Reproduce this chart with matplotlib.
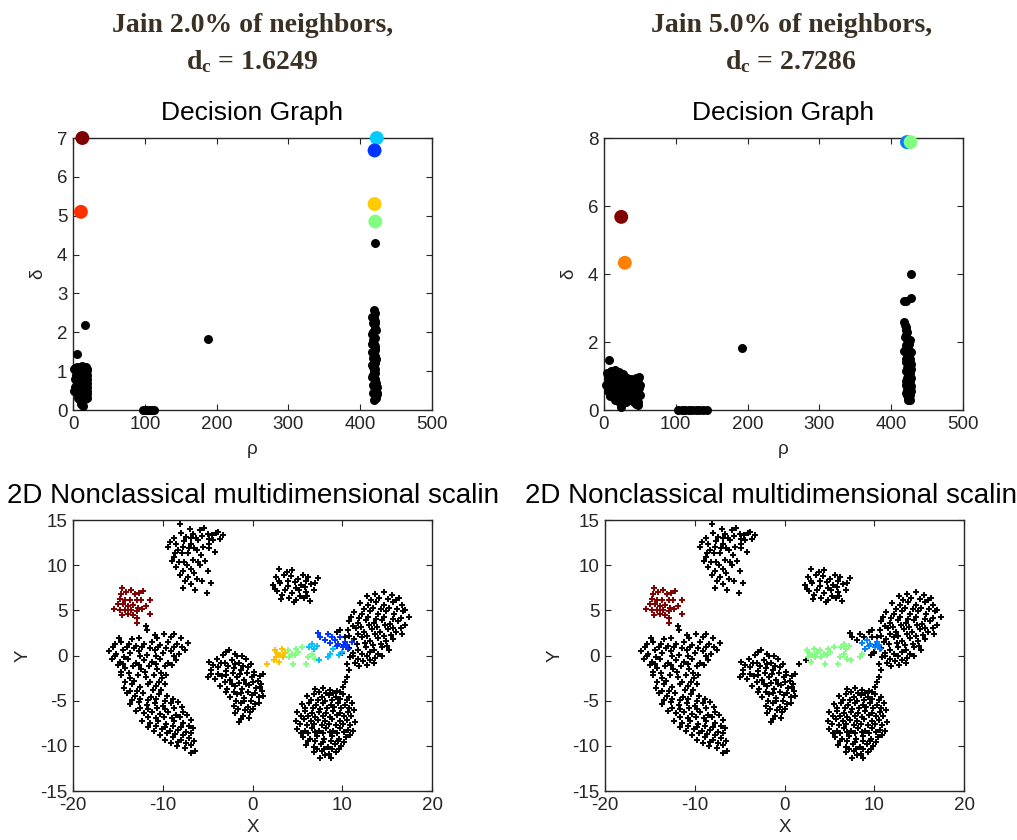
import numpy as np
import matplotlib
matplotlib.use("Agg")
import matplotlib.pyplot as plt

plt.rcParams["font.family"] = ["Liberation Sans", "DejaVu Sans"]
plt.rcParams["axes.unicode_minus"] = False
plt.rcParams["mathtext.fontset"] = "custom"
plt.rcParams["mathtext.rm"] = "Liberation Serif"
plt.rcParams["mathtext.bf"] = "Liberation Serif:bold"

# ---------------- data: decision graphs ----------------
panelTitles = ["Jain 2.0% of neighbors,", "Jain 5.0% of neighbors,"]
dcValues = ["1.6249", "2.7286"]

# 2% run: black points (rho, delta)
decisionBlack2 = [
    (5, 1.45), (17, 2.18), (188, 1.83), (420, 4.3),
    (3, 1.08), (6, 1.1), (9, 1.05), (12, 1.12), (15, 1.0), (18, 1.1), (19, 1.02),
    (4, 0.9), (8, 0.85), (11, 0.92), (14, 0.88), (17, 0.9), (19, 0.8),
    (2, 0.5), (5, 0.7), (7, 0.6), (10, 0.72), (13, 0.65), (16, 0.75), (19, 0.6),
    (6, 0.45), (9, 0.4), (12, 0.48), (15, 0.35), (18, 0.42), (19, 0.3),
    (10, 0.25), (13, 0.2), (14, 0.1), (16, 0.28),
    (3, 0.8), (5, 0.95), (7, 1.0), (10, 0.95), (13, 1.0), (16, 0.95), (20, 1.05),
    (20, 0.9), (20, 0.7), (20, 0.5), (20, 0.4), (3, 0.6), (8, 0.7), (11, 0.55),
    (14, 0.55), (17, 0.55), (7, 0.3), (12, 0.35), (15, 0.45), (17, 0.3), (11, 0.15),
    (4, 0.5), (2, 1.05),
    (98, 0), (101, 0), (104, 0), (107, 0), (110, 0), (113, 0),
    (419, 2.58), (421, 2.5), (418, 2.25), (420, 2.1), (417, 1.95), (422, 2.05),
    (418, 1.8), (420, 1.65), (417, 1.5), (421, 1.4), (419, 1.25), (418, 1.1),
    (420, 0.95), (417, 0.85), (421, 0.75), (419, 0.6), (422, 0.5), (418, 0.45),
    (420, 0.35), (419, 0.25), (423, 0.4), (421, 0.55),
    (419, 2.4), (420, 2.3), (418, 2.0), (421, 1.85), (419, 1.7), (420, 1.55),
    (418, 1.35), (422, 1.3), (420, 1.2), (417, 1.15), (421, 1.05), (419, 1.0),
    (418, 0.9), (420, 0.8), (422, 0.7), (418, 0.65), (420, 0.55), (422, 0.3),
    (424, 0.45), (423, 0.6), (417, 2.4), (421, 2.25), (417, 1.7), (421, 1.6),
]
decisionCenters2 = [(13, 7.0), (11, 5.1), (423, 7.0), (420, 6.68), (420, 5.3), (421, 4.85)]
centerColors2 = ["#800000", "#ff3000", "#00ccff", "#0033ff", "#ffcc00", "#80ff80"]

# 5% run
decisionBlack5 = [
    (192, 1.83), (427, 4.0), (418, 3.2), (421, 3.22), (427, 3.3),
    (7, 1.48), (4, 1.1), (10, 1.15), (16, 1.18), (21, 1.12), (26, 1.05), (32, 0.95),
    (38, 0.92), (44, 0.95), (49, 0.98),
    (8, 0.85), (13, 0.9), (18, 0.95), (23, 0.88), (28, 0.82), (34, 0.8), (40, 0.78),
    (46, 0.82), (50, 0.75),
    (6, 0.55), (11, 0.62), (16, 0.7), (21, 0.65), (26, 0.6), (31, 0.55), (36, 0.6),
    (42, 0.58), (48, 0.55), (50, 0.45),
    (9, 0.4), (14, 0.45), (19, 0.42), (24, 0.38), (29, 0.35), (34, 0.4), (39, 0.35),
    (45, 0.3), (48, 0.25), (22, 0.2), (23, 0.1), (28, 0.28), (44, 0.18), (47, 0.15),
    (12, 1.05), (18, 1.05), (29, 0.95), (35, 0.9), (41, 0.88), (47, 0.9), (15, 0.75),
    (25, 0.72), (30, 0.7), (38, 0.7), (44, 0.65), (49, 0.65), (12, 0.5), (18, 0.55),
    (28, 0.48), (33, 0.5), (40, 0.48), (46, 0.42), (15, 0.3), (20, 0.3), (31, 0.25),
    (36, 0.3), (42, 0.25), (26, 0.45), (5, 0.95), (3, 0.75), (8, 0.65), (6, 1.0),
    (103, 0), (108, 0), (113, 0), (118, 0), (123, 0), (128, 0), (133, 0), (138, 0), (143, 0),
    (418, 2.6), (420, 2.45), (422, 2.3), (419, 2.15), (423, 2.05), (421, 1.9), (425, 1.95),
    (418, 1.75), (427, 1.7), (422, 1.6), (426, 1.5), (420, 1.4), (424, 1.3), (421, 1.15),
    (425, 1.05), (422, 0.95), (426, 0.85), (420, 0.75), (424, 0.65), (427, 0.55),
    (421, 0.5), (425, 0.4), (426, 0.3), (423, 0.35), (428, 0.7), (428, 1.2),
    (419, 2.5), (421, 2.35), (420, 2.2), (422, 2.1), (424, 1.85), (420, 1.8),
    (423, 1.7), (425, 1.6), (421, 1.5), (423, 1.4), (425, 1.25), (422, 1.25),
    (426, 1.1), (423, 1.0), (421, 0.85), (425, 0.9), (423, 0.75), (426, 0.65),
    (422, 0.6), (424, 0.5), (426, 0.45), (422, 0.45), (424, 0.3), (427, 0.95),
    (427, 1.35), (426, 2.05),
]
decisionCenters5 = [(24, 5.68), (29, 4.33), (422, 7.88), (427, 7.88)]
centerColors5 = ["#800000", "#ff8000", "#0080ff", "#80ff80"]

# ---------------- data: 2D embedding ----------------
topCluster = [
    (-8.1, 14.6), (-8.8, 13.0), (-9.4, 12.0), (-8.5, 12.4), (-7.4, 13.1), (-6.6, 13.5),
    (-5.9, 13.9), (-5.4, 14.1), (-5.0, 13.5), (-3.8, 13.7), (-3.3, 13.3), (-4.4, 12.8),
    (-4.8, 12.4), (-6.1, 12.8), (-6.8, 12.4), (-7.7, 12.0), (-7.9, 11.3), (-8.8, 10.9),
    (-7.2, 11.3), (-6.2, 11.7), (-5.5, 12.0), (-4.2, 11.5), (-5.7, 11.1), (-6.6, 10.6),
    (-7.6, 10.4), (-8.5, 9.8), (-7.7, 9.4), (-6.8, 9.6), (-5.9, 10.0), (-5.0, 9.4),
    (-7.2, 8.7), (-6.2, 8.5), (-7.7, 7.5), (-6.4, 7.2), (-5.1, 6.9), (-4.6, 8.0),
    (-9.0, 10.5), (-8.1, 8.9), (-7.0, 14.0), (-6.3, 13.0), (-4.5, 13.3), (-8.3, 11.7),
    (-9.2, 12.6), (-8.0, 13.6), (-7.6, 12.7), (-6.9, 13.0), (-5.6, 13.2), (-4.1, 13.6),
    (-3.6, 12.9), (-4.9, 11.9), (-6.5, 11.9), (-7.1, 11.9), (-8.2, 10.3), (-6.1, 10.4),
    (-5.3, 10.5), (-7.3, 10.0), (-6.5, 9.1), (-7.5, 8.3), (-5.6, 8.3), (-6.9, 7.9),
    (-4.8, 12.9), (-8.6, 11.4),
]
redCluster = [
    (-14.5, 7.53), (-14.6, 6.86), (-14.1, 7.05), (-13.5, 7.31), (-13.1, 6.86), (-12.6, 6.94),
    (-12.2, 7.16), (-14.8, 6.31), (-14.2, 6.2), (-13.7, 6.13), (-12.9, 6.13), (-12.4, 6.13),
    (-11.4, 6.2), (-15.0, 5.76), (-14.4, 5.68), (-13.9, 5.46), (-13.3, 5.57), (-12.8, 5.31),
    (-15.4, 5.2), (-14.8, 5.09), (-14.2, 5.02), (-13.5, 5.02), (-12.9, 4.94), (-12.3, 5.2),
    (-14.5, 4.46), (-13.9, 4.65), (-13.3, 4.46), (-12.9, 4.21), (-12.9, 3.62), (-11.4, 4.65),
    (-11.9, 5.46),
]
leftCluster = [
    (-11.9, 3.25), (-11.8, 2.8), (-10.9, 2.25), (-9.9, 2.36), (-8.8, 2.36),
    (-15.3, 1.3), (-14.6, 1.5), (-13.8, 1.3), (-13.0, 1.1), (-12.1, 1.3), (-11.2, 1.5),
    (-10.3, 1.2), (-9.4, 1.5), (-8.4, 1.3), (-7.2, 1.4),
    (-16.0, 0.5), (-15.2, 0.2), (-14.4, 0.6), (-13.6, 0.3), (-12.7, 0.5), (-11.8, 0.1),
    (-10.9, 0.6), (-10.0, 0.3), (-9.1, 0.5), (-8.2, 0.2), (-7.5, 0.6),
    (-15.7, -0.4), (-14.8, -0.7), (-13.9, -0.4), (-13.0, -0.8), (-12.1, -0.5), (-11.2, -0.7),
    (-10.3, -0.4), (-9.4, -0.8), (-8.5, -0.5),
    (-15.0, -1.1), (-14.2, -1.4), (-13.3, -1.2), (-12.4, -1.5), (-11.5, -1.2), (-10.6, -1.5),
    (-9.7, -1.2),
    (-14.6, -2.2), (-13.7, -2.5), (-12.8, -2.1), (-11.9, -2.4), (-11.0, -2.2), (-10.1, -2.5),
    (-14.3, -3.6), (-13.4, -3.2), (-12.5, -3.5), (-11.6, -3.1), (-10.7, -3.4), (-9.8, -3.2),
    (-14.0, -4.2), (-13.1, -4.5), (-12.2, -4.2), (-11.3, -4.6), (-10.4, -4.3), (-9.5, -4.5),
    (-13.6, -5.4), (-12.7, -5.1), (-11.8, -5.5), (-10.9, -5.2), (-10.0, -5.6), (-9.1, -5.3),
    (-8.3, -5.1),
    (-13.0, -6.1), (-12.1, -6.4), (-11.2, -6.2), (-10.3, -6.5), (-9.4, -6.3), (-8.5, -6.6),
    (-7.7, -6.2),
    (-12.3, -7.2), (-11.4, -7.5), (-10.5, -7.2), (-9.6, -7.6), (-8.7, -7.3), (-7.8, -7.5),
    (-6.9, -7.1),
    (-11.0, -8.3), (-10.1, -8.1), (-9.2, -8.4), (-8.3, -8.2), (-7.4, -8.5), (-6.6, -8.0),
    (-9.8, -9.3), (-8.9, -9.0), (-8.0, -9.4), (-7.1, -9.1), (-6.5, -9.5),
    (-8.4, -10.0), (-7.5, -10.2), (-6.8, -10.8), (-6.4, -10.6),
    (-14.9, 1.9), (-13.4, 1.8), (-12.6, 1.9), (-10.6, 1.9), (-8.0, 1.9), (-9.1, 2.0),
    (-15.6, 0.9), (-14.0, 0.9), (-13.2, 0.8), (-12.3, 0.9), (-11.4, 0.8), (-10.5, 0.9),
    (-9.6, 0.8), (-8.7, 0.9), (-7.9, 0.9),
    (-15.3, -0.1), (-14.3, -0.2), (-12.5, -0.1), (-10.7, -0.1), (-8.8, -0.1),
    (-14.4, -0.9), (-12.6, -1.0), (-10.8, -0.9), (-9.0, -1.0),
    (-14.7, -1.8), (-13.8, -1.9), (-12.0, -1.8), (-10.2, -1.9), (-9.6, -2.2),
    (-14.2, -2.9), (-13.2, -2.8), (-11.4, -2.9), (-10.4, -2.9),
    (-13.7, -3.9), (-12.9, -3.9), (-11.1, -3.8), (-10.2, -3.8),
    (-13.4, -4.9), (-12.5, -4.8), (-11.7, -4.9), (-10.8, -4.8), (-9.8, -5.0), (-8.9, -4.8),
    (-12.5, -5.8), (-11.6, -5.9), (-10.6, -5.8), (-9.7, -5.9), (-8.8, -5.8), (-7.9, -5.7),
    (-11.7, -6.8), (-10.8, -6.9), (-9.9, -6.8), (-9.0, -6.9), (-8.1, -6.8), (-7.3, -6.6),
    (-11.6, -7.9), (-10.7, -7.8), (-9.8, -7.9), (-8.9, -7.8), (-8.0, -7.9), (-7.1, -7.8),
    (-10.3, -8.8), (-9.5, -8.6), (-8.6, -8.7), (-7.7, -8.8), (-6.9, -8.6),
    (-9.1, -9.7), (-8.3, -9.6), (-7.4, -9.7), (-6.8, -9.9),
]
middleCluster = [
    (-2.6, 0.6), (-3.3, 0.1), (-2.0, 0.2), (-1.2, 0.0),
    (-4.8, -0.7), (-4.0, -0.4), (-3.1, -0.8), (-2.3, -0.5), (-1.5, -0.8), (-0.7, -0.4),
    (-4.6, -1.6), (-3.8, -1.3), (-2.9, -1.7), (-2.1, -1.4), (-1.3, -1.6), (-0.5, -1.3), (0.2, -1.8),
    (-5.0, -2.4), (-4.2, -2.6), (-3.4, -2.3), (-2.5, -2.7), (-1.7, -2.4), (-0.9, -2.7),
    (-0.1, -2.4), (0.6, -2.8), (1.2, -2.0),
    (-3.6, -3.4), (-2.8, -3.7), (-2.0, -3.4), (-1.2, -3.7), (-0.4, -3.3), (0.4, -3.6), (1.0, -3.2),
    (-2.5, -4.6), (-1.7, -4.3), (-0.9, -4.7), (-0.1, -4.4), (0.7, -4.6), (1.2, -4.5),
    (-2.1, -5.6), (-1.3, -5.3), (-0.5, -5.7), (0.3, -5.4),
    (-1.9, -6.4), (-1.1, -6.7), (-0.3, -6.3), (-1.5, -7.4), (-0.4, -6.9),
    (-2.9, 0.4), (-1.7, -0.1), (-4.4, -1.0), (-3.5, -0.8), (-2.7, -1.2), (-1.9, -0.9),
    (-1.1, -1.2), (-0.2, -0.9), (-4.6, -2.0), (-3.8, -2.0), (-3.0, -2.1), (-2.2, -1.9),
    (-1.4, -2.0), (-0.6, -1.9), (0.2, -2.1), (0.8, -2.3), (-3.1, -2.9), (-2.3, -3.1),
    (-1.5, -3.0), (-0.7, -3.1), (0.1, -2.9), (0.8, -3.5), (-2.9, -4.0), (-2.1, -4.0),
    (-1.3, -4.1), (-0.5, -4.0), (0.3, -4.1), (1.1, -3.9), (-1.8, -5.0), (-1.0, -5.0),
    (-0.2, -5.0), (0.7, -5.3), (-1.6, -5.9), (-0.8, -6.0), (0.1, -5.9), (-1.3, -7.0),
]
upperMidCluster = [
    (3.0, 9.6), (4.4, 9.5), (2.6, 8.7), (3.5, 8.9), (4.3, 8.8), (5.6, 8.9), (6.2, 8.7),
    (7.3, 8.6), (2.3, 7.8), (3.1, 8.0), (3.9, 7.7), (4.7, 8.1), (5.4, 7.8), (6.5, 7.9),
    (2.7, 7.1), (3.6, 7.2), (4.4, 6.9), (5.2, 7.2), (6.0, 7.0), (6.8, 7.2), (3.2, 6.3),
    (4.1, 6.4), (4.9, 6.1), (5.7, 6.4), (6.4, 6.0), (4.6, 5.9),
    (3.8, 9.3), (5.1, 8.5), (2.9, 8.3), (4.0, 8.3), (6.0, 8.2), (7.0, 8.0),
    (2.5, 7.4), (4.8, 7.5), (5.8, 7.6), (3.3, 6.7), (5.3, 6.6), (6.1, 6.6),
]
rightCluster = [
    (12.8, 6.6), (13.6, 6.8), (14.6, 7.0), (15.5, 6.7), (16.3, 6.4),
    (12.0, 5.8), (12.9, 5.6), (13.8, 5.9), (14.7, 5.6), (15.6, 5.9), (16.6, 5.6),
    (11.3, 4.8), (12.2, 4.6), (13.1, 4.9), (14.0, 4.6), (14.9, 4.9), (15.8, 4.6), (16.8, 4.9),
    (17.4, 4.3),
    (10.8, 3.8), (11.7, 3.6), (12.6, 3.9), (13.5, 3.6), (14.4, 3.9), (15.3, 3.5), (16.2, 3.8),
    (17.0, 3.4),
    (10.6, 2.8), (11.5, 3.0), (12.4, 2.6), (13.3, 2.9), (14.2, 2.6), (15.1, 2.9), (16.0, 2.6),
    (16.7, 2.4),
    (11.3, 1.8), (12.2, 2.0), (13.1, 1.6), (14.0, 1.9), (14.9, 1.6), (15.6, 1.8),
    (10.8, 0.8), (11.7, 0.6), (12.6, 0.9), (13.5, 0.6), (14.4, 0.9), (15.2, 0.6),
    (10.9, -0.2), (11.8, -0.4), (12.7, -0.1), (13.6, -0.3), (14.4, -0.1),
    (10.5, -0.9), (11.9, -1.2), (12.8, -1.0), (13.5, -0.8),
    (9.74, 2.8), (9.4, 2.6), (11.2, 0.0),
    (10.7, -1.6), (10.5, -2.4), (10.3, -2.9),
    (13.2, 6.2), (14.1, 6.4), (15.1, 6.3), (16.0, 6.1), (12.4, 5.2), (13.4, 5.3),
    (14.3, 5.1), (15.2, 5.3), (16.1, 5.2), (17.0, 5.0), (11.0, 4.3), (11.9, 4.2),
    (12.9, 4.3), (13.8, 4.1), (14.7, 4.3), (15.6, 4.1), (16.5, 4.2), (11.2, 3.3),
    (12.1, 3.2), (13.0, 3.4), (13.9, 3.2), (14.8, 3.4), (15.7, 3.1), (16.5, 3.0),
    (10.8, 2.2), (11.8, 2.4), (12.7, 2.2), (13.6, 2.4), (14.6, 2.2), (15.4, 2.3),
    (11.6, 1.3), (12.5, 1.4), (13.4, 1.2), (14.3, 1.3), (15.0, 1.1), (11.2, 0.3),
    (12.2, 0.2), (13.1, 0.4), (14.0, 0.2), (11.4, -0.8), (12.3, -0.6), (13.1, -0.5),
    (10.3, 2.0), (10.2, 1.2), (10.0, 0.3),
]
bottomCluster = [
    (7.0, -3.7), (7.8, -3.6), (8.6, -3.8), (9.4, -3.9), (10.1, -3.5),
    (6.1, -4.5), (6.9, -4.3), (7.7, -4.6), (8.5, -4.4), (9.3, -4.6), (10.1, -4.3), (10.8, -4.6),
    (5.5, -5.4), (6.3, -5.2), (7.1, -5.5), (7.9, -5.3), (8.7, -5.5), (9.5, -5.2), (10.3, -5.5),
    (11.1, -5.3),
    (5.0, -6.3), (5.8, -6.1), (6.6, -6.4), (7.4, -6.2), (8.2, -6.4), (9.0, -6.1), (9.8, -6.4),
    (10.6, -6.2), (11.3, -6.0),
    (4.9, -7.2), (5.7, -7.0), (6.5, -7.3), (7.3, -7.1), (8.1, -7.3), (8.9, -7.0), (9.7, -7.3),
    (10.5, -7.1), (11.4, -7.4),
    (5.0, -8.1), (5.8, -8.3), (6.6, -8.0), (7.4, -8.3), (8.2, -8.0), (9.0, -8.3), (9.8, -8.0),
    (10.6, -8.2), (11.2, -8.4),
    (5.6, -9.0), (6.4, -9.2), (7.2, -8.9), (8.0, -9.2), (8.8, -8.9), (9.6, -9.2), (10.4, -9.0),
    (6.0, -9.9), (6.8, -10.1), (7.6, -9.8), (8.4, -10.1), (9.2, -9.8), (9.9, -10.0),
    (6.9, -10.7), (7.7, -10.6), (8.5, -10.9), (9.3, -10.7), (7.5, -11.3), (8.7, -11.3),
    (7.4, -4.0), (8.2, -4.1), (9.0, -4.2), (9.8, -4.0), (6.5, -4.9), (7.3, -4.9),
    (8.1, -5.0), (8.9, -4.9), (9.7, -4.8), (10.5, -4.9), (5.9, -5.8), (6.7, -5.8),
    (7.5, -5.9), (8.3, -5.8), (9.1, -5.7), (9.9, -5.8), (10.7, -5.8), (5.4, -6.7),
    (6.2, -6.7), (7.0, -6.8), (7.8, -6.7), (8.6, -6.8), (9.4, -6.6), (10.2, -6.7),
    (11.0, -6.7), (5.3, -7.6), (6.1, -7.7), (6.9, -7.6), (7.7, -7.7), (8.5, -7.6),
    (9.3, -7.7), (10.1, -7.6), (10.9, -7.7), (5.4, -8.6), (6.2, -8.6), (7.0, -8.5),
    (7.8, -8.6), (8.6, -8.5), (9.4, -8.6), (10.2, -8.5), (10.9, -8.8), (6.2, -9.5),
    (7.0, -9.5), (7.9, -9.6), (8.7, -9.5), (9.5, -9.5), (10.2, -9.6), (7.2, -10.3),
    (8.0, -10.4), (8.8, -10.3), (9.6, -10.4), (8.1, -11.0),
]
# points between the clusters, with the label each run gave them
bridgePoints = [
    (1.56, -0.96), (2.38, -0.52), (2.49, 0.66), (2.75, 0.30), (3.05, 0.04), (3.23, 0.77),
    (3.42, -0.15), (2.97, -0.70), (2.60, -0.15), (3.6, 0.3),
    (3.98, 0.59), (4.35, 0.22), (4.54, -0.89), (4.83, 0.77), (5.09, 0.41), (5.46, 0.96),
    (4.72, 0.04), (5.95, -0.89), (6.21, -0.15), (6.58, 0.22), (6.95, -0.33), (4.1, -0.15),
    (6.32, 0.96), (6.58, 1.33), (6.84, 0.77), (7.14, 1.07), (7.43, -0.44), (8.44, -0.15),
    (8.62, 0.15), (9.0, 0.77), (9.67, 0.04), (9.93, 0.41),
    (7.32, 2.55), (7.51, 2.07), (8.07, 1.70), (8.44, 2.36), (8.81, 2.07), (9.18, 1.70),
    (9.55, 1.33), (9.74, 2.07), (10.11, 0.96), (10.48, 1.14), (10.67, 0.77), (11.04, 1.51),
    (10.30, 1.51), (9.37, 1.07), (8.62, 1.40),
]
bridgeLabels2 = ["y"] * 10 + ["g"] * 12 + ["c"] * 10 + ["b"] * 15
bridgeLabels5 = (["k", "k"] + ["g"] * 8 + ["g"] * 12
                 + ["g"] * 7 + ["b2", "k", "k"]
                 + ["k"] * 5 + ["b2", "b2", "k", "b2", "b2", "b2", "k", "b2", "b2", "b2"])
labelColors = {"k": "black", "y": "#ffc000", "g": "#80ff80", "c": "#00c0ff",
               "b": "#0033ff", "b2": "#0080ff"}

textColor = "#262626"


def styleAxes(ax):
    ax.tick_params(direction="in", top=True, right=True, length=4, width=0.8,
                   labelsize=13.5, colors=textColor, pad=4)
    for spine in ax.spines.values():
        spine.set_color(textColor)
        spine.set_linewidth(1.0)


def drawDecision(ax, blackPts, centers, colors, ymax):
    b = np.array(blackPts, dtype=float)
    ax.scatter(b[:, 0], b[:, 1], s=42, c="black", linewidths=0, clip_on=False, zorder=3)
    c = np.array(centers, dtype=float)
    ax.scatter(c[:, 0], c[:, 1], s=100, c=colors, linewidths=0, clip_on=False, zorder=4)
    ax.set_xlim(0, 500)
    ax.set_ylim(0, ymax)
    ax.set_xticks(range(0, 501, 100))
    ax.set_title("Decision Graph", fontsize=19, pad=13)
    ax.set_xlabel("ρ", fontsize=13.5, color=textColor, labelpad=6)
    ax.set_ylabel("δ", fontsize=13.5, color=textColor, labelpad=8)
    styleAxes(ax)


def drawEmbedding(ax, bridgeLabels):
    kw = dict(marker="+", markersize=5, markeredgewidth=1.4, linestyle="none")
    for cluster in [topCluster, leftCluster, middleCluster, upperMidCluster,
                    rightCluster, bottomCluster]:
        p = np.array(cluster)
        ax.plot(p[:, 0], p[:, 1], color="black", **kw)
    p = np.array(redCluster)
    ax.plot(p[:, 0], p[:, 1], color="#800000", **kw)
    p = np.array(bridgePoints)
    for key in labelColors:
        mask = np.array([lab == key for lab in bridgeLabels])
        if mask.any():
            ax.plot(p[mask, 0], p[mask, 1], color=labelColors[key], **kw)
    ax.set_xlim(-20, 20)
    ax.set_ylim(-15, 15)
    ax.set_xticks([-20, -10, 0, 10, 20])
    ax.set_yticks([-15, -10, -5, 0, 5, 10, 15])
    ax.set_xlabel("X", fontsize=13.5, color=textColor, labelpad=4)
    ax.set_ylabel("Y", fontsize=13.5, color=textColor, labelpad=6)
    styleAxes(ax)


fig = plt.figure(figsize=(10.17, 8.4), dpi=100)

axTL = fig.add_axes([0.0718, 0.5119, 0.353, 0.3238])
axTR = fig.add_axes([0.5939, 0.5119, 0.353, 0.3238])
axBL = fig.add_axes([0.0718, 0.0583, 0.353, 0.3226])
axBR = fig.add_axes([0.5949, 0.0583, 0.353, 0.3226])

drawDecision(axTL, decisionBlack2, decisionCenters2, centerColors2, 7)
drawDecision(axTR, decisionBlack5, decisionCenters5, centerColors5, 8)
axTR.set_yticks([0, 2, 4, 6, 8])
drawEmbedding(axBL, bridgeLabels2)
drawEmbedding(axBR, bridgeLabels5)

mdsTitle = "2D Nonclassical multidimensional scalin"
axBL.set_title(mdsTitle, fontsize=20, pad=12)
# right one runs to the page edge in the original; keep it just inside
axBR.set_title(mdsTitle, fontsize=20, pad=12, loc="right", x=1.148, ha="right")

titleColor = "#3b3024"
for xc, head, dc in zip([0.248, 0.778], panelTitles, dcValues):
    fig.text(xc, 0.970, head, ha="center", va="center", fontsize=20,
             family="Liberation Serif", weight="bold", color=titleColor)
    fig.text(xc, 0.927, r"$\mathbf{d_c}$ = " + dc, ha="center", va="center", fontsize=20,
             family="Liberation Serif", weight="bold", color=titleColor)

fig.savefig("out.png", dpi=100)
